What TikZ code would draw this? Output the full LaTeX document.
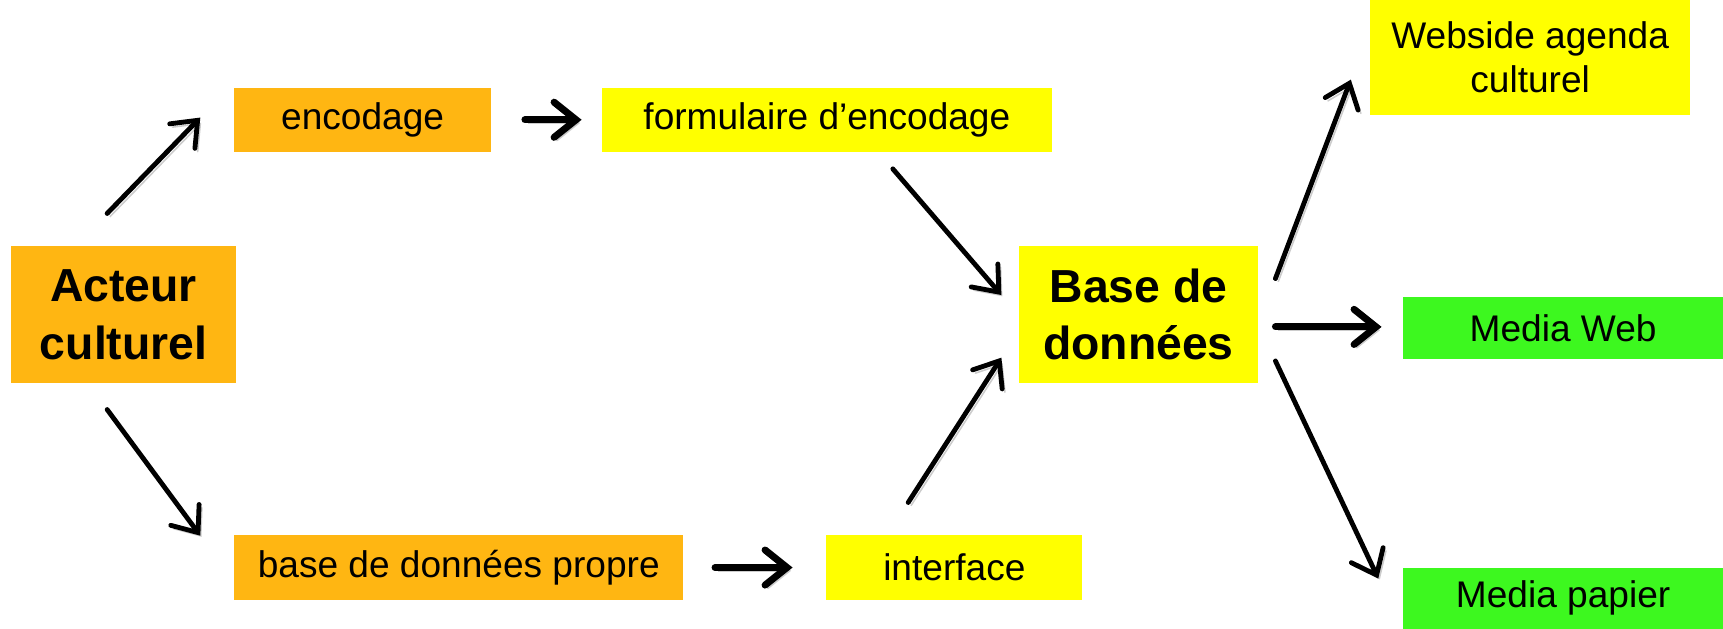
\documentclass[tikz,border=0pt]{standalone}
\usepackage{fontspec}
\setmainfont{Liberation Sans}
\usetikzlibrary{arrows.meta}
\definecolor{orbg}{RGB}{255,182,18}
\definecolor{yebg}{RGB}{255,255,0}
\definecolor{grbg}{RGB}{61,248,31}
\tikzset{box/.style = {inner sep = 0, align = center, font = \fontsize{9.6}{11.4}\selectfont},
  bigbox/.style = {box, font = \fontsize{12}{14.8}\selectfont\bfseries},
  orbox/.style = {fill = orbg},
  yebox/.style = {fill = yebg},
  grbox/.style = {fill = grbg},
  arr/.style = {line width = 1.25pt, line cap = round,
    -{Straight Barb[length = 2mm, width = 3.2mm, line cap = round]},
    preaction = {draw = black!20, transform canvas = {shift = {(0.25mm, -0.3mm)}}}},
  harr/.style = {arr, line width = 1.8pt}}

\begin{document}
\begin{tikzpicture}[x=0.1mm, y=-0.1mm]
  \useasboundingbox (0, 0) rectangle (1568, 572);

  \node [bigbox, orbox, minimum width = 20.5mm, minimum height = 12.5mm] (acteur) at (112.5, 286.5) {Acteur\\culturel};
  \node [box, orbox, minimum width = 23.4mm, minimum height = 5.8mm] (encodage) at (330, 109) {encodage};
  \node [box, yebox, minimum width = 40.9mm, minimum height = 5.8mm] (formulaire) at (752.5, 109) {formulaire d'encodage};
  \node [box, orbox, minimum width = 40.9mm, minimum height = 5.9mm] (propre) at (417.5, 516.5) {base de données propre};
  \node [box, yebox, minimum width = 23.3mm, minimum height = 5.9mm] (interface) at (868.5, 516.5) {interface};
  \node [bigbox, yebox, minimum width = 21.8mm, minimum height = 12.5mm] (base) at (1036, 286.5) {Base de\\données};
  \node [box, yebox, minimum width = 29.1mm, minimum height = 10.5mm] (webside) at (1392.5, 52.5) {Webside agenda\\culturel};
  \node [box, grbox, minimum width = 29.1mm, minimum height = 5.7mm] (mediaweb) at (1422.5, 298.5) {Media Web};
  \node [box, grbox, minimum width = 29.1mm, minimum height = 5.5mm] (papier) at (1422.5, 544.5) {Media papier};

  \draw [arr] ([shift = {(-15, -29)}] acteur.north) -- ([shift = {(-30, -2)}] encodage.west);
  \draw [harr] ([shift = {(30, 0)}] encodage.east) -- ([shift = {(-18, 0)}] formulaire.west);
  \draw [arr] ([shift = {(60, 15)}] formulaire.south) -- ([shift = {(-15, -18)}] base.west);
  \draw [arr] ([shift = {(-15, 23)}] acteur.south) -- ([shift = {(-30, -29)}] propre.west);
  \draw [harr] ([shift = {(28, 0)}] propre.east) -- ([shift = {(-30, 0)}] interface.west);
  \draw [arr] ([shift = {(-42, -29)}] interface.north) -- ([shift = {(-15, 39)}] base.west);
  \draw [arr] ([shift = {(15, -33)}] base.east) -- ([shift = {(-17, 20)}] webside.west);
  \draw [harr] ([shift = {(15, 11)}] base.east) -- ([shift = {(-19, -1)}] mediaweb.west);
  \draw [arr] ([shift = {(15, 42)}] base.east) -- ([shift = {(-22, -18)}] papier.west);
\end{tikzpicture}
\end{document}
